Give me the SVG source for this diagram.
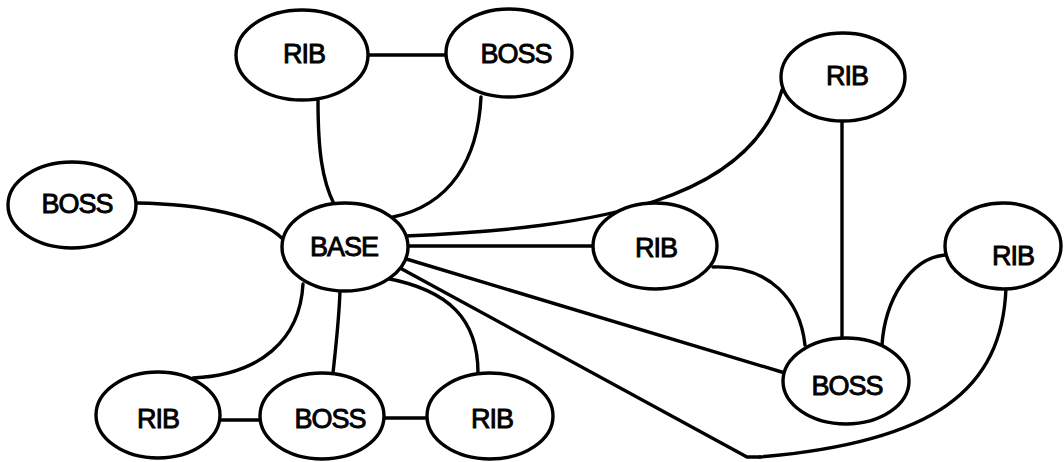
<svg xmlns="http://www.w3.org/2000/svg" width="1064" height="462" viewBox="0 0 1064 462">
  <style>
    .node ellipse { fill: #ffffff; stroke: #000000; stroke-width: 3.4; }
    .node text { font-family: "Liberation Sans", Arial, sans-serif; font-size: 27px; letter-spacing: -1px; text-anchor: middle; fill: #000000; stroke: #000000; stroke-width: 0.9; }
    .edges path { fill: none; stroke: #000000; stroke-width: 3.4; stroke-linecap: round; stroke-linejoin: round; }
  </style>
  <rect width="1064" height="462" fill="#ffffff"/>

  <!-- connectors -->
  <g class="edges" id="edges">
    <path d="M367,55 L445,55"/>
    <path d="M318,100 C318,150 322,180 334,204"/>
    <path d="M481,97 C478,160 450,205 393,217"/>
    <path d="M137,203 C200,204 260,215 284,240"/>
    <path d="M405,236 C600,228 750,200 782,90"/>
    <path d="M407,246 L593,246"/>
    <path d="M403,258 L785,373"/>
    <path d="M400,268 L747,457 L760,457"/>
    <path d="M1006,288 C1002,390 935,442 760,457"/>
    <path d="M842,120 L842,337"/>
    <path d="M713,267 C770,265 800,300 805,345"/>
    <path d="M945,255 C910,258 885,300 882,345"/>
    <path d="M303,284 C300,340 260,375 193,378"/>
    <path d="M340,291 C339,320 336,345 333,373"/>
    <path d="M385,278 C450,290 478,320 478,373"/>
    <path d="M220,420 L260,420"/>
    <path d="M385,418 L427,418"/>
  </g>

  <!-- nodes -->
  <g class="node" id="rib-top-left">
    <ellipse cx="302" cy="55" rx="66" ry="45"/>
    <text x="304" y="63">RIB</text>
  </g>
  <g class="node" id="boss-top">
    <ellipse cx="509" cy="53" rx="63" ry="44"/>
    <text x="516" y="63">BOSS</text>
  </g>
  <g class="node" id="rib-top-right">
    <ellipse cx="843" cy="77" rx="62" ry="44"/>
    <text x="847" y="85">RIB</text>
  </g>
  <g class="node" id="boss-left">
    <ellipse cx="72" cy="205" rx="64" ry="43"/>
    <text x="77" y="213">BOSS</text>
  </g>
  <g class="node" id="base">
    <ellipse cx="345" cy="247" rx="63" ry="44"/>
    <text x="344" y="256">BASE</text>
  </g>
  <g class="node" id="rib-mid">
    <ellipse cx="655" cy="246" rx="62" ry="43"/>
    <text x="656" y="257">RIB</text>
  </g>
  <g class="node" id="rib-right">
    <ellipse cx="1003" cy="246" rx="58" ry="43"/>
    <text x="1013" y="265">RIB</text>
  </g>
  <g class="node" id="boss-bottom-right">
    <ellipse cx="846" cy="381" rx="63" ry="43"/>
    <text x="847" y="395">BOSS</text>
  </g>
  <g class="node" id="rib-bottom-left">
    <ellipse cx="158" cy="415" rx="62" ry="43"/>
    <text x="158" y="428">RIB</text>
  </g>
  <g class="node" id="boss-bottom">
    <ellipse cx="322" cy="416" rx="62" ry="43"/>
    <text x="330" y="428">BOSS</text>
  </g>
  <g class="node" id="rib-bottom">
    <ellipse cx="490" cy="416" rx="63" ry="43"/>
    <text x="492" y="428">RIB</text>
  </g>
</svg>
